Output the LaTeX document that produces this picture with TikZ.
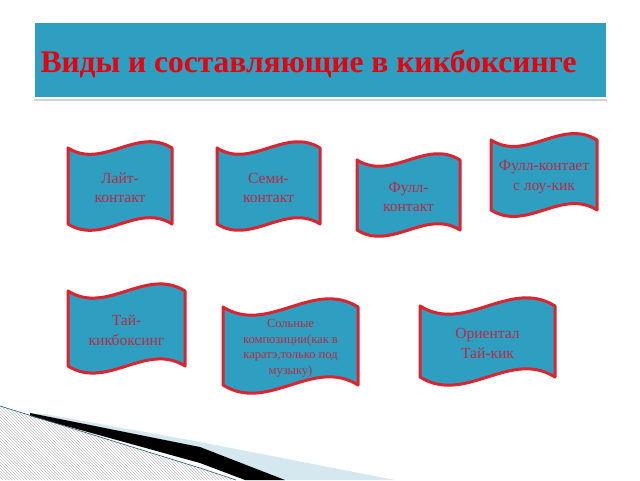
\documentclass[tikz,border=0pt]{standalone}
\usepackage{fontspec}
\setmainfont{Liberation Serif}
\usetikzlibrary{shadows,patterns}
\definecolor{teal}{HTML}{2E9FC0}
\definecolor{flagred}{HTML}{DC2430}
\definecolor{textred}{HTML}{B82A44}
\definecolor{titlered}{HTML}{E8000C}
\definecolor{paleblue}{HTML}{D5E8EF}

\tikzset{
  banner/.style={draw=flagred,fill=teal,line width=3pt,line join=round},
  bannertext/.style={text=textred,align=center,font=\fontsize{15.5}{19.5}\selectfont},
  smalltext/.style={font=\fontsize{12.5}{15.5}\selectfont},
  titlebox/.style={draw=white,line width=1.5pt,fill=teal,
    drop shadow={shadow xshift=0pt,shadow yshift=-3pt,fill=black!35}}
}
% banner: [text style], name, left, right, top, bottom, text
\newcommand{\wavebanner}[7][]{
  \pgfmathsetmacro\bw{#4-#3}
  \draw[banner] (#3,#5)
    .. controls ({#3+\bw/3},{#5+0.21*\bw}) and ({#3+2*\bw/3},{#5-0.21*\bw}) .. (#4,#5)
    -- (#4,#6)
    .. controls ({#3+2*\bw/3},{#6-0.21*\bw}) and ({#3+\bw/3},{#6+0.21*\bw}) .. (#3,#6)
    -- cycle;
  \node[bannertext,#1] (#2) at ({(#3+#4)/2},{(#5+#6)/2+2}) {#7};
}

\begin{document}
\begin{tikzpicture}[x=1pt,y=-1pt]
  \useasboundingbox (0,0) rectangle (640,480);

  % title
  \draw[titlebox] (34,22) rectangle (607,98);
  \node[anchor=base west,text=titlered,font=\fontsize{31.5}{33}\selectfont\bfseries]
    (title) at (37,72) {Виды и составляющие в кикбоксинге};

  % banners, first row
  \wavebanner{light}{68}{172}{148}{224}{Лайт-\\контакт}
  \wavebanner{semi}{217}{320}{148}{224}{Семи-\\контакт}
  \wavebanner{full}{357}{460}{160}{230}{Фулл-\\контакт}
  \wavebanner{lowkick}{491}{597}{140}{210}{Фулл-контает\\с лоу-кик}

  % banners, second row
  \wavebanner{thai}{68}{185}{291}{366}{Тай-\\кикбоксинг}
  \wavebanner[smalltext]{solo}{223}{358}{307}{385}{Сольные\\композиции(как в\\каратэ,только под\\музыку)}
  \wavebanner{oriental}{420}{555}{306}{377}{Ориентал\\Тай-кик}

  % corner swoosh
  \fill[paleblue] (45,414) -- (200,442) -- (395,480) -- (285,480) -- (200,447) -- (30,413) -- cycle;
  \fill[black] (30,413) -- (200,447) -- (285,480) -- (245,480) -- (200,463) -- (30,416) -- cycle;
  \fill[pattern=north west lines,pattern color=black!25] (0,406) -- (200,468) -- (236,480) -- (0,480) -- cycle;
  \draw[teal!60!black,line width=0.6pt] (0,406) -- (200,468) -- (236,480);
\end{tikzpicture}
\end{document}
